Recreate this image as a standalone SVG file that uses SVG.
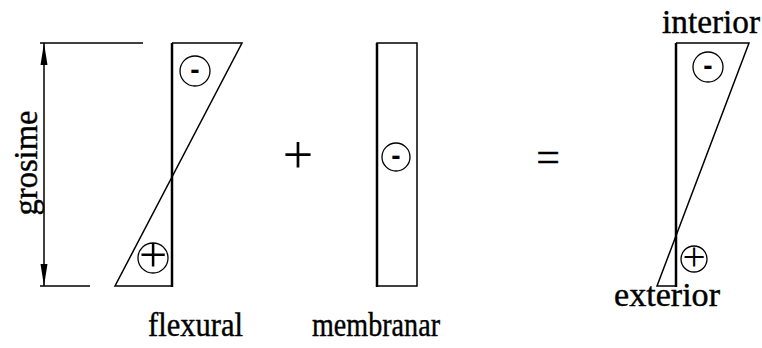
<svg xmlns="http://www.w3.org/2000/svg" width="762" height="348" viewBox="0 0 762 348">
<style>
.ln{stroke:#000;stroke-width:1.5;fill:none}
.thk{stroke:#000;stroke-width:2.5;fill:none}
.c{stroke:#000;stroke-width:1.3;fill:#fff}
.t{font-family:"Liberation Serif","Times New Roman",serif;fill:#000;stroke:#000;stroke-width:0.4}
.p{font-family:"Liberation Serif","Times New Roman",serif;fill:#000;text-anchor:middle}
.m{font-family:"Liberation Sans",Arial,sans-serif;font-weight:bold;fill:#000;text-anchor:middle}
</style>
<defs>
<marker id="ah" markerWidth="22" markerHeight="8" refX="22" refY="4" orient="auto" markerUnits="userSpaceOnUse">
<path d="M0,0.5 L22,4 L0,7.5 Z" fill="#000"/>
</marker>
</defs>
<rect width="762" height="348" fill="#fff"/>
<g id="dimension">
<line class="ln" x1="40" y1="43" x2="143" y2="43"/>
<line class="ln" x1="40" y1="286" x2="90" y2="286"/>
<line class="ln" x1="44" y1="164" x2="44" y2="43" marker-end="url(#ah)"/>
<line class="ln" x1="44" y1="164" x2="44" y2="286" marker-end="url(#ah)"/>
<text class="t" font-size="33" transform="translate(37,163) rotate(-90)" text-anchor="middle" textLength="105" lengthAdjust="spacingAndGlyphs">grosime</text>
</g>
<g id="flexural">
<path class="ln" d="M172,43 L242,43 L115,286 L172,286"/>
<line class="thk" x1="172" y1="43" x2="172" y2="287"/>
<circle class="c" cx="195" cy="71" r="15"/>
<text class="m" x="195" y="79" font-size="28">-</text>
<circle class="c" cx="153" cy="258" r="15"/>
<text class="p" x="153" y="272" font-size="50">+</text>
<text class="t" x="148" y="336" font-size="33" textLength="95" lengthAdjust="spacingAndGlyphs">flexural</text>
</g>
<g id="plus">
<text class="p" x="298" y="173" font-size="54">+</text>
</g>
<g id="membranar">
<rect class="ln" x="377" y="43" width="40" height="243"/>
<line class="thk" x1="377" y1="43" x2="377" y2="287"/>
<circle class="c" cx="396" cy="157" r="14"/>
<text class="m" x="396" y="165" font-size="28">-</text>
<text class="t" x="312" y="336" font-size="33" textLength="128" lengthAdjust="spacingAndGlyphs">membranar</text>
</g>
<g id="equals">
<text class="t" x="548" y="171" font-size="42" text-anchor="middle">=</text>
</g>
<g id="result">
<path class="ln" d="M676,43 L749,43 L657,286 L677,286"/>
<line class="thk" x1="676" y1="43" x2="676" y2="287"/>
<circle class="c" cx="708" cy="67" r="15"/>
<text class="m" x="708" y="75" font-size="28">-</text>
<circle class="c" cx="694" cy="259" r="13"/>
<text class="p" x="694" y="270" font-size="41">+</text>
<text class="t" x="662" y="33" font-size="33" textLength="98" lengthAdjust="spacingAndGlyphs">interior</text>
<text class="t" x="614" y="306" font-size="33" textLength="106" lengthAdjust="spacingAndGlyphs">exterior</text>
</g>
</svg>
